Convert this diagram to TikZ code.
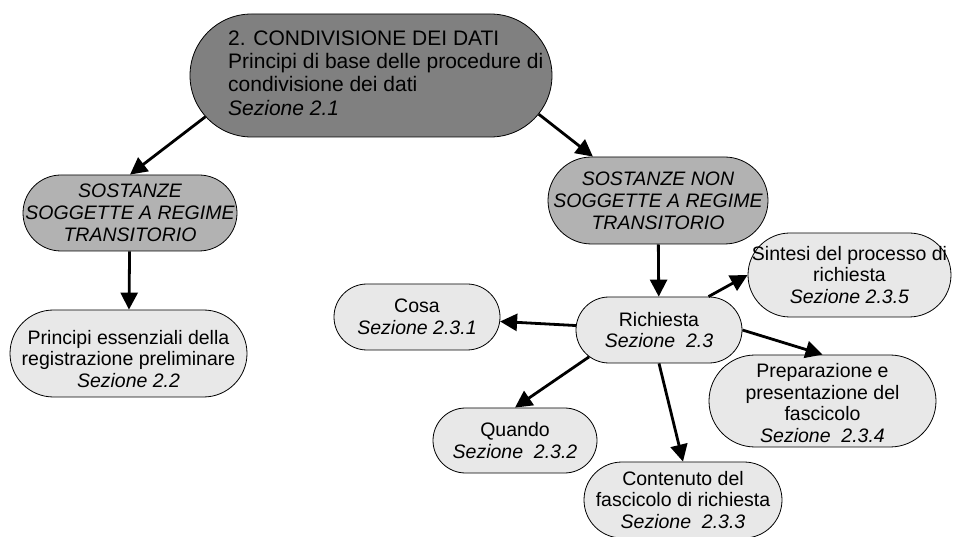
\documentclass[tikz,border=0pt]{standalone}
\usepackage{fontspec}
\setmainfont{Liberation Sans}
\usetikzlibrary{shapes.misc,arrows.meta}
\definecolor{grigioscuro}{RGB}{128,128,128}
\definecolor{grigiomedio}{RGB}{178,178,178}
\definecolor{grigiochiaro}{RGB}{232,232,232}

\begin{document}
\begin{tikzpicture}[x=1pt,y=-1pt,
  forma/.style={rounded rectangle,draw=black,line width=0.8pt,inner sep=0pt},
  sostanze/.style={forma,fill=grigiomedio},
  sezione/.style={forma,fill=grigiochiaro},
  testo/.style={inner sep=0pt,align=center,font=\fontsize{19.5}{21.5}\selectfont},
  freccia/.style={line width=2.8pt,-{Triangle[length=17pt,width=17pt]}}]

\useasboundingbox (0,0) rectangle (954,537);

\node[forma,fill=grigioscuro,minimum width=362pt,minimum height=123pt] (dati) at (371,75.5) {};
\node[testo,align=left,anchor=west,font=\fontsize{21}{23.3}\selectfont] (dati-t) at (228,73) {2. CONDIVISIONE DEI DATI\\ Principi di base delle procedure di\\ condivisione dei dati\\ \textit{Sezione 2.1}};

\node[sostanze,minimum width=214pt,minimum height=76pt] (sost) at (130,213) {};
\node[testo,font=\fontsize{19.5}{22}\selectfont\itshape] (sost-t) at (sost) {SOSTANZE\\ SOGGETTE A REGIME\\ TRANSITORIO};
\node[sostanze,minimum width=220pt,minimum height=87pt] (non) at (658,200.5) {};
\node[testo,font=\fontsize{19.5}{22}\selectfont\itshape] (non-t) at (non) {SOSTANZE NON\\ SOGGETTE A REGIME\\ TRANSITORIO};

\node[sezione,minimum width=237pt,minimum height=87pt] (princ) at (128.5,353.5) {};
\node[testo] (princ-t) at (128.5,359) {Principi essenziali della\\ registrazione preliminare\\ \textit{Sezione 2.2}};
\node[sezione,minimum width=166pt,minimum height=66pt] (rich) at (659,330) {};
\node[testo] (rich-t) at (rich) {Richiesta\\ \textit{Sezione~~2.3}};
\node[sezione,minimum width=166pt,minimum height=66pt] (cosa) at (417,317) {};
\node[testo] (cosa-t) at (cosa) {Cosa\\ \textit{Sezione 2.3.1}};
\node[sezione,minimum width=164pt,minimum height=65pt] (quando) at (515,440.5) {};
\node[testo] (quando-t) at (quando) {Quando\\ \textit{Sezione~~2.3.2}};
\node[sezione,minimum width=198pt,minimum height=76pt] (cont) at (683,500) {};
\node[testo] (cont-t) at (cont) {Contenuto del\\ fascicolo di richiesta\\ \textit{Sezione~~2.3.3}};
\node[sezione,minimum width=227pt,minimum height=92pt] (prep) at (822.5,401) {};
\node[testo] (prep-t) at (822.5,403) {Preparazione e\\ presentazione del\\ fascicolo\\ \textit{Sezione~~2.3.4}};
\node[sezione,minimum width=203pt,minimum height=84pt] (sint) at (849.5,275) {};
\node[testo] (sint-t) at (sint) {Sintesi del processo di\\ richiesta\\ \textit{Sezione 2.3.5}};

\draw[freccia] (dati.194) -- (sost.north);
\draw[freccia] (dati.-13) -- (non.146);
\draw[freccia] (sost) -- (princ);
\draw[freccia] (non) -- (rich);
\draw[freccia] (rich) -- (cosa);
\draw[freccia] (rich.201) -- (quando.north);
\draw[freccia] (rich.south) -- (cont.north);
\draw[freccia] (rich.east) -- (prep.north);
\draw[freccia] (rich.34) -- (sint.west);
\end{tikzpicture}
\end{document}
